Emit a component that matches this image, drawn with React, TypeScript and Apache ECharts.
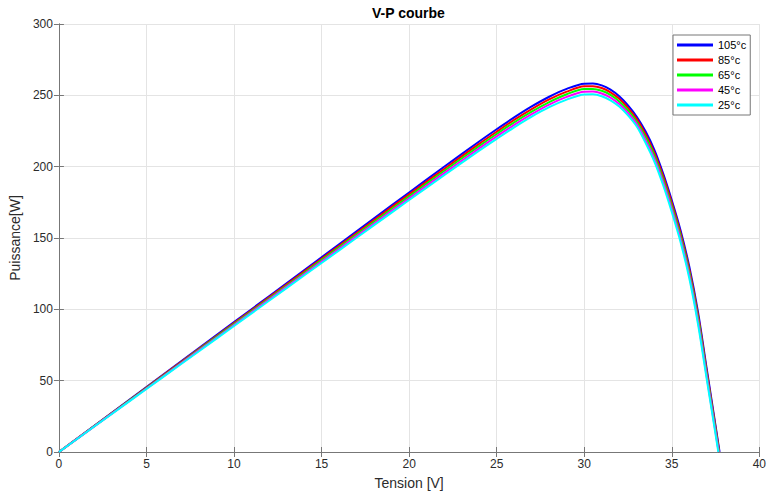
import React, { useEffect, useRef } from "react";
import * as echarts from "echarts";

// Voltage grid [V]
const tension = [0, 2, 4, 6, 8, 10, 12, 14, 16, 18, 20, 22, 24, 25, 26, 27, 28, 29, 30, 30.5, 31, 31.5, 32, 32.5, 33, 33.5, 34, 34.5, 35, 35.5, 36, 36.5, 37, 37.5];

// Power [W] per temperature
const p105 = [0, 18.2, 36.4, 54.6, 72.8, 91.0, 109.2, 127.4, 145.6, 163.8, 181.9, 199.9, 217.6, 226.2, 234.5, 242.2, 249.0, 254.5, 258.2, 258.3, 257.0, 254.0, 249.4, 243.0, 235.0, 224.8, 212.0, 195.5, 176.5, 155.5, 130.0, 98.0, 58.0, 18.5];
const p85 = [0, 18.07, 36.13, 54.2, 72.26, 90.33, 108.4, 126.5, 144.5, 162.6, 180.6, 198.4, 216.0, 224.5, 232.8, 240.4, 247.2, 252.6, 256.3, 256.4, 255.1, 252.1, 247.6, 241.2, 233.3, 222.8, 209.9, 193.5, 174.5, 153.4, 127.9, 95.9, 56.2, 17.0];
const p65 = [0, 17.93, 35.86, 53.8, 71.73, 89.66, 107.6, 125.5, 143.5, 161.4, 179.2, 197.0, 214.4, 222.9, 231.1, 238.6, 245.3, 250.8, 254.4, 254.5, 253.2, 250.3, 245.7, 239.4, 231.5, 220.8, 207.9, 191.3, 172.4, 151.4, 125.9, 93.8, 54.3, 15.4];
const p45 = [0, 17.8, 35.6, 53.4, 71.2, 89.0, 106.8, 124.6, 142.4, 160.2, 177.9, 195.5, 212.8, 221.2, 229.3, 236.8, 243.5, 248.9, 252.5, 252.6, 251.3, 248.4, 243.9, 237.6, 229.8, 218.8, 205.8, 189.3, 170.3, 149.3, 123.8, 91.6, 52.6, 13.9];
const p25 = [0, 17.67, 35.33, 53.0, 70.66, 88.32, 106.0, 123.7, 141.3, 159.0, 176.6, 194.0, 211.2, 219.5, 227.6, 235.1, 241.7, 247.0, 250.6, 250.7, 249.4, 246.5, 242.1, 235.9, 228.1, 216.8, 203.8, 187.3, 168.2, 147.2, 121.8, 89.5, 50.8, 12.4];

// Open-circuit voltages [V] (power = 0)
const vocValues = [37.73, 37.71, 37.695, 37.68, 37.66];

const seriesNames = ["105°c", "85°c", "65°c", "45°c", "25°c"];
const seriesColors = ["#0000ff", "#ff0000", "#00ff00", "#ff00ff", "#00ffff"];
const seriesValues = [p105, p85, p65, p45, p25];

const FONT = "'Liberation Sans', Arial, Helvetica, sans-serif";
const AXIS_COLOR = "#777777";
const LABEL_COLOR = "#2b2b2b";
const GRID_COLOR = "#e4e4e4";

export default function App() {
  const ref = useRef<HTMLDivElement>(null);

  useEffect(() => {
    if (!ref.current) return;
    const chart = echarts.init(ref.current, undefined, { renderer: "svg" });

    const series = seriesNames.map((name, i) => {
      const pts: number[][] = tension.map((v, j) => [v, seriesValues[i][j]]);
      pts.push([vocValues[i], 0]);
      return {
        name,
        type: "line",
        data: pts,
        showSymbol: false,
        symbol: "none",
        smooth: 0.3,
        lineStyle: { color: seriesColors[i], width: 2 },
        itemStyle: { color: seriesColors[i] },
        z: 2 + i,
      };
    });

    const axisCommon = {
      axisLine: { show: true, lineStyle: { color: AXIS_COLOR, width: 1 } },
      axisTick: { show: true, inside: true, length: 5, lineStyle: { color: AXIS_COLOR } },
    };

    chart.setOption({
      animation: false,
      backgroundColor: "#ffffff",
      textStyle: { fontFamily: FONT },
      title: {
        text: "V-P courbe",
        left: 372,
        top: 5,
        padding: 0,
        textStyle: { fontFamily: FONT, fontSize: 14, fontWeight: "bold", color: "#000000", lineHeight: 16 },
      },
      legend: {
        data: seriesNames,
        orient: "vertical",
        left: 673,
        top: 35,
        padding: [3, 4, 3, 4],
        itemGap: 1,
        itemWidth: 36,
        itemHeight: 3,
        icon: "rect",
        backgroundColor: "#ffffff",
        borderColor: "#777777",
        borderWidth: 1,
        textStyle: { fontFamily: FONT, fontSize: 11, color: "#000000", lineHeight: 14 },
      },
      grid: { left: 56, right: 7, top: 24, bottom: 43, containLabel: false },
      xAxis: [
        {
          type: "value",
          min: 0,
          max: 40,
          interval: 5,
          name: "Tension [V]",
          nameLocation: "middle",
          nameGap: 24,
          nameTextStyle: { fontFamily: FONT, fontSize: 14, color: LABEL_COLOR },
          ...axisCommon,
          axisLabel: { fontFamily: FONT, fontSize: 12, color: LABEL_COLOR, margin: 6 },
          splitLine: { show: true, lineStyle: { color: GRID_COLOR, width: 1 } },
        },
        {
          type: "value",
          position: "top",
          min: 0,
          max: 40,
          interval: 5,
          ...axisCommon,
          axisLabel: { show: false },
          splitLine: { show: false },
        },
      ],
      yAxis: [
        {
          type: "value",
          min: 0,
          max: 300,
          interval: 50,
          name: "Puissance[W]",
          nameLocation: "middle",
          nameGap: 28,
          nameTextStyle: { fontFamily: FONT, fontSize: 14, color: LABEL_COLOR },
          ...axisCommon,
          axisLabel: { fontFamily: FONT, fontSize: 12, color: LABEL_COLOR, margin: 6 },
          splitLine: { show: true, lineStyle: { color: GRID_COLOR, width: 1 } },
        },
        {
          type: "value",
          position: "right",
          min: 0,
          max: 300,
          interval: 50,
          ...axisCommon,
          axisLabel: { show: false },
          splitLine: { show: false },
        },
      ],
      series,
    });

    return () => {
      chart.dispose();
    };
  }, []);

  return (
    <div
      ref={ref}
      style={{ position: "fixed", left: 0, top: 0, width: 769, height: 495, background: "#ffffff" }}
    />
  );
}
